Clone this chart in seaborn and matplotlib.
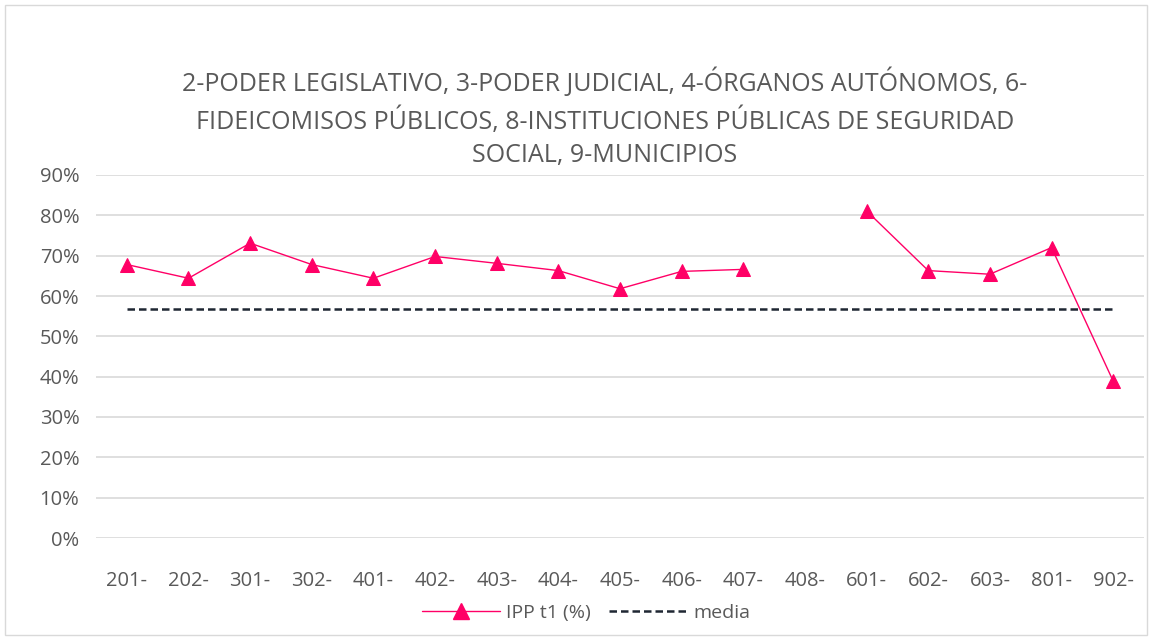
import matplotlib.pyplot as plt
import seaborn as sns
import pandas as pd
import numpy as np
from matplotlib.lines import Line2D
from matplotlib.patches import FancyBboxPatch

# Datos
categorias = ["201-", "202-", "301-", "302-", "401-", "402-", "403-", "404-", "405-",
              "406-", "407-", "408-", "601-", "602-", "603-", "801-", "902-"]
ipp_t1 = [67.8, 64.4, 73.1, 67.8, 64.4, 69.8, 68.1, 66.3, 61.8,
          66.1, 66.6, np.nan, 81.1, 66.3, 65.4, 72.0, 38.9]
media = 56.7

titulo = ("2-PODER LEGISLATIVO, 3-PODER JUDICIAL, 4-ÓRGANOS AUTÓNOMOS, 6-\n"
          "FIDEICOMISOS PÚBLICOS, 8-INSTITUCIONES PÚBLICAS DE SEGURIDAD\n"
          "SOCIAL, 9-MUNICIPIOS")

rosa = "#FF0066"
gris_texto = "#595959"

df = pd.DataFrame({"pos": range(len(categorias)), "categoria": categorias, "ipp": ipp_t1})
# tramos separados donde falta el dato (hueco en 408)
df["tramo"] = df["ipp"].isna().cumsum()
df = df.dropna()

sns.set_theme(style="white")
plt.rcParams["font.family"] = ["Open Sans", "DejaVu Sans"]

fig = plt.figure(figsize=(11.52, 6.4), dpi=100)
ax = fig.add_axes([96 / 1152, 1 - 538 / 640, 1048 / 1152, 363 / 640])

sns.lineplot(data=df, x="pos", y="ipp", units="tramo", estimator=None, ax=ax,
             color=rosa, lw=1, marker="^", markersize=10.5, markeredgecolor=rosa)

ax.plot([0, len(categorias) - 1], [media, media], color="#1f2733", lw=1.8,
        linestyle=(0, (3, 1.6)))

ax.set_xlim(-0.5, len(categorias) - 0.5)
ax.set_ylim(0, 90)
ax.set_yticks(range(0, 91, 10))
ax.set_yticklabels([f"{v}%" for v in range(0, 91, 10)])
ax.set_xticks(range(len(categorias)))
ax.set_xticklabels(categorias)
ax.tick_params(axis="both", labelsize=14.5, colors=gris_texto, length=0)
ax.tick_params(axis="y", pad=12)
ax.tick_params(axis="x", pad=24)
ax.set_xlabel("")
ax.set_ylabel("")
ax.grid(axis="y", color="#d9d9d9", lw=1.2)
ax.set_axisbelow(True)
for s in ax.spines.values():
    s.set_visible(False)

fig.text(605 / 1152, 1 - 118 / 640, titulo, ha="center", va="center",
         fontsize=18, color=gris_texto, linespacing=1.45)

handles = [
    Line2D([0], [0], color=rosa, lw=1, marker="^", markersize=11, markeredgecolor=rosa),
    Line2D([0], [0], color="#1f2733", lw=1.8, linestyle=(0, (3, 1.6))),
]
fig.legend(handles, ["IPP t1 (%)", "media"], loc="center", bbox_to_anchor=(586 / 1152, 1 - 613 / 640),
           ncol=2, frameon=False, fontsize=14, labelcolor=gris_texto, handlelength=4.0,
           columnspacing=0.9, handletextpad=0.35)

borde = FancyBboxPatch((5 / 1152, 5 / 640), 1142 / 1152, 630 / 640, boxstyle="square,pad=0",
                       transform=fig.transFigure, fill=False, edgecolor="#d9d9d9", lw=1)
fig.patches.append(borde)

fig.savefig("out.png", dpi=100)
plt.close()
